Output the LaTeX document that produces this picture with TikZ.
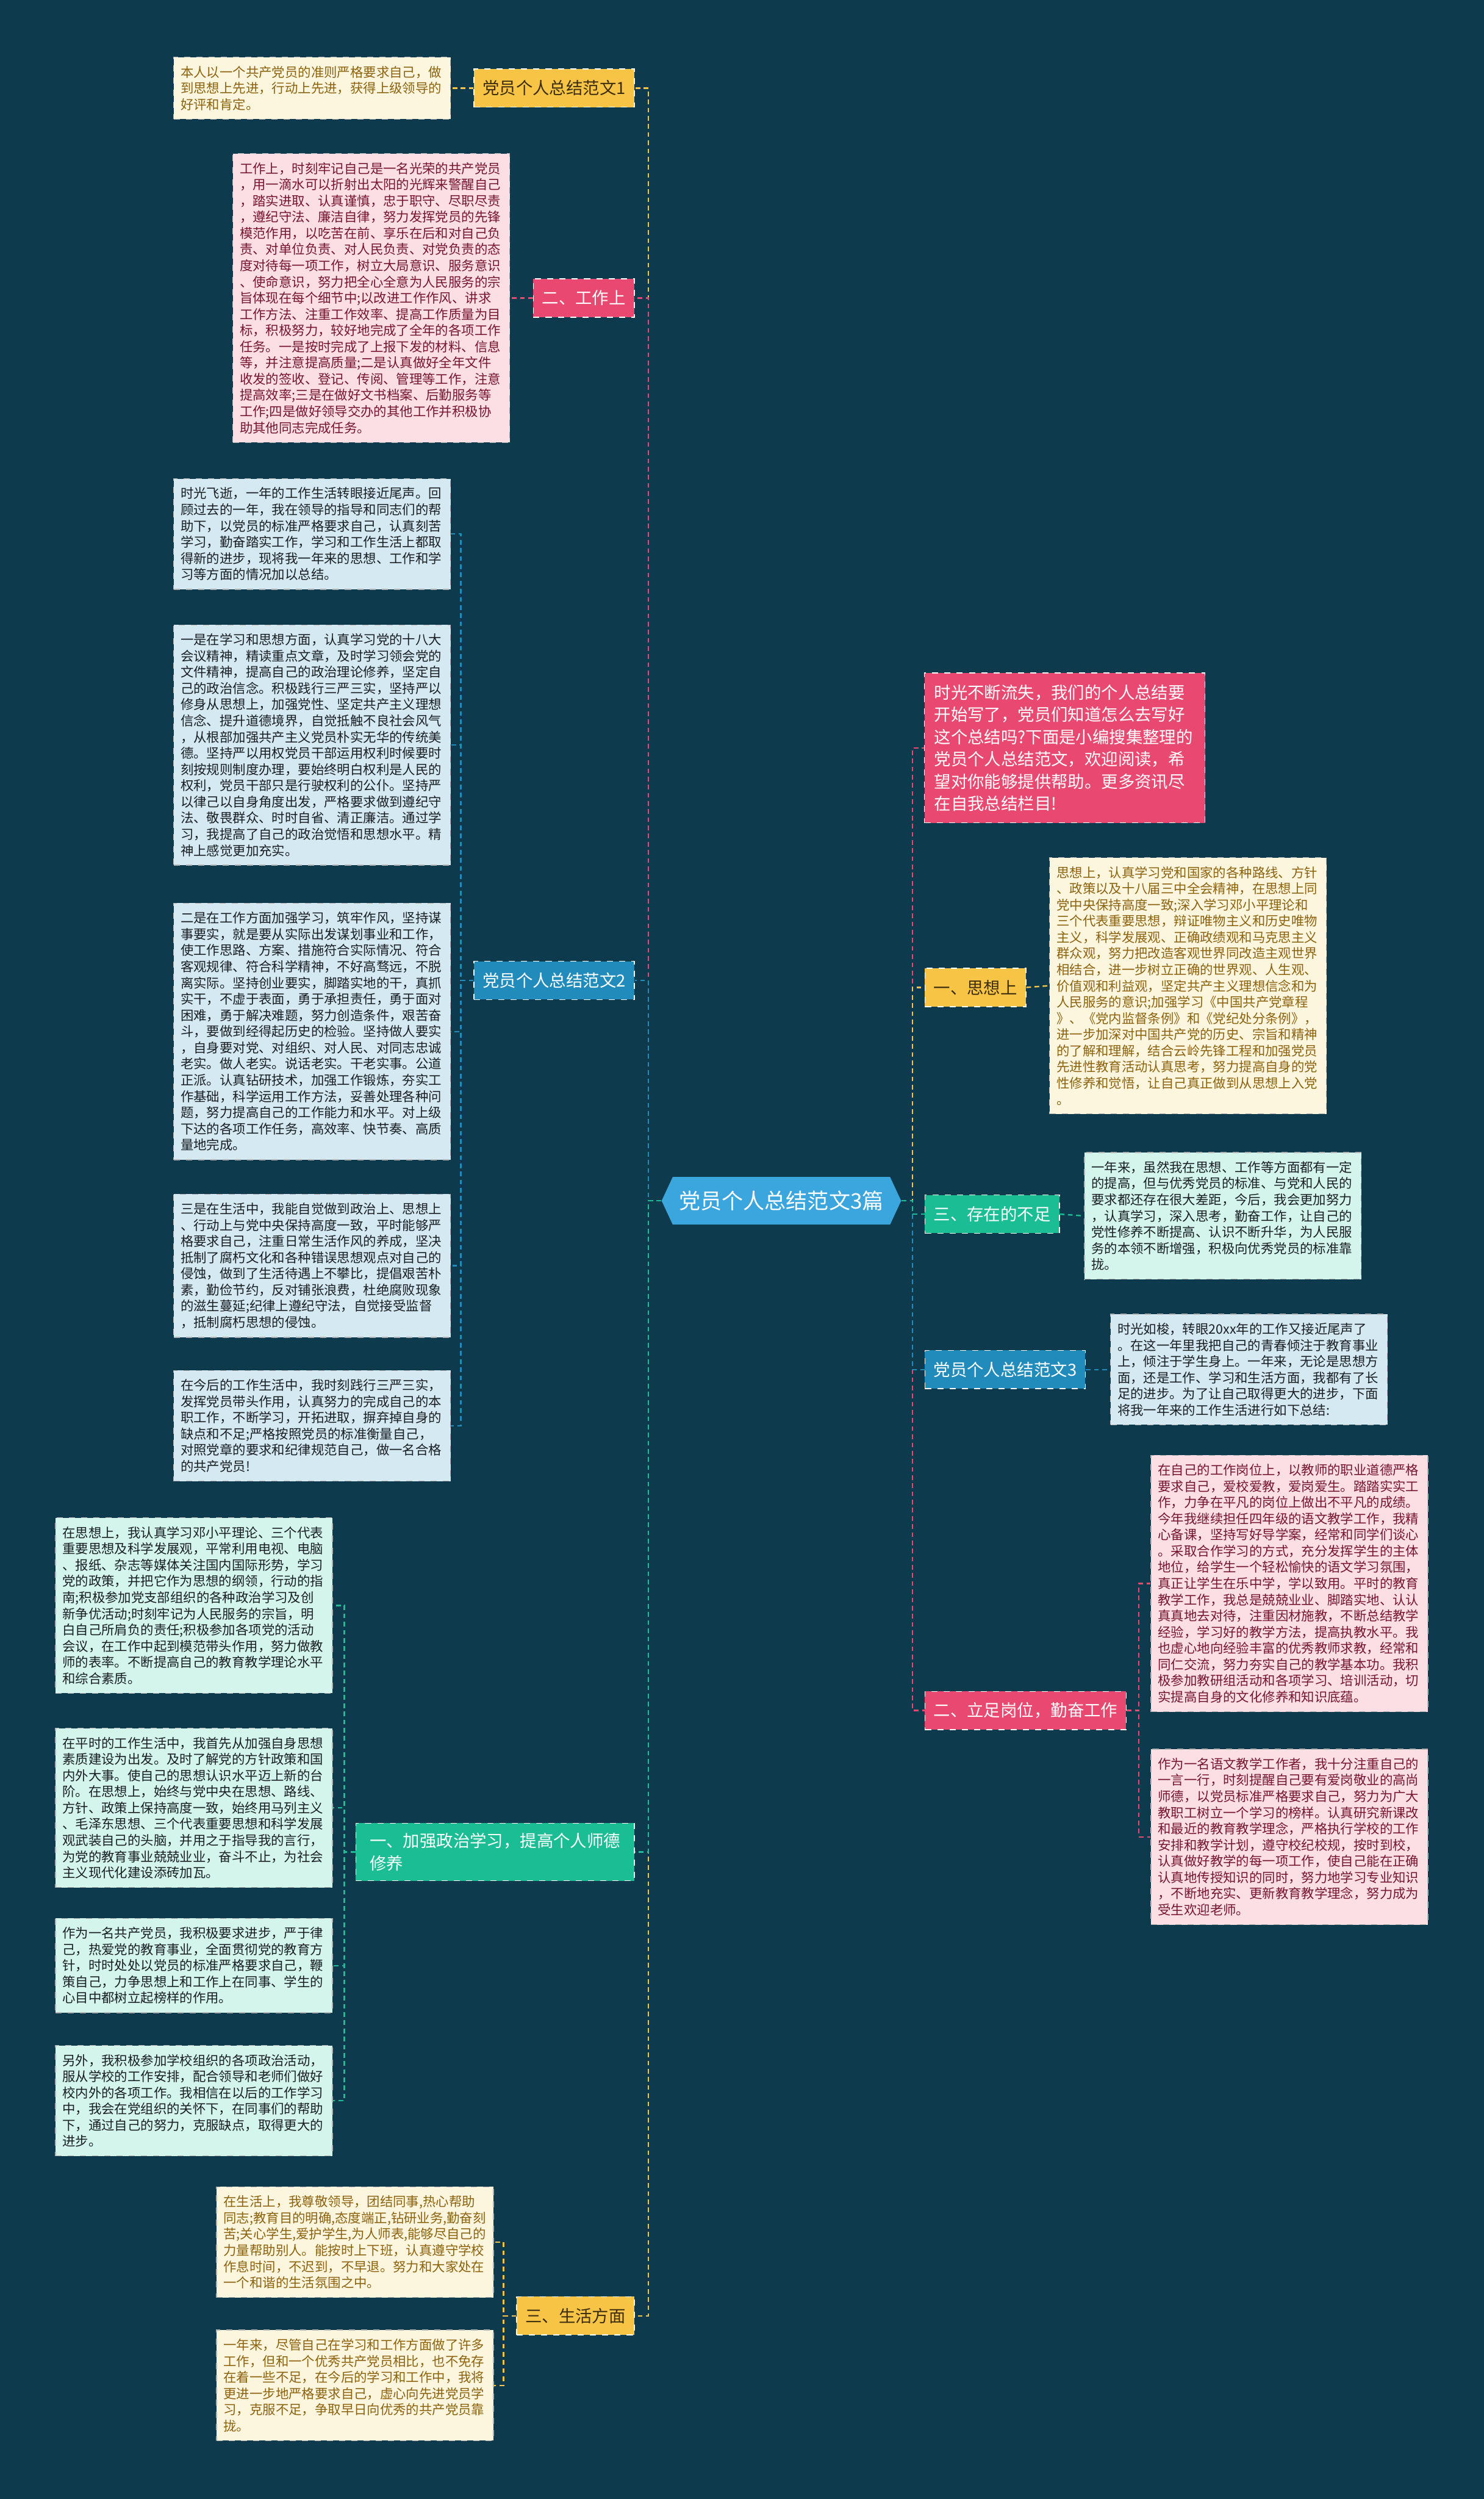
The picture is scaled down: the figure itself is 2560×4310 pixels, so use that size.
\documentclass[tikz,border=0pt]{standalone}
\usepackage{fontspec}
\setmainfont{Noto Sans CJK SC}
\usepackage{xcolor}
\usetikzlibrary{shapes.symbols, positioning}
\definecolor{cBack}{RGB}{14,58,78}
\definecolor{cRoot}{RGB}{59,166,222}
\definecolor{cYellow}{RGB}{247,196,70}
\definecolor{cPink}{RGB}{233,73,112}
\definecolor{cBlue}{RGB}{33,140,188}
\definecolor{cGreen}{RGB}{27,190,148}
\definecolor{cDark}{RGB}{60,45,15}
\definecolor{cCream}{RGB}{253,246,222}
\definecolor{cCreamTxt}{RGB}{140,98,14}
\definecolor{cRose}{RGB}{252,222,229}
\definecolor{cRoseTxt}{RGB}{118,22,46}
\definecolor{cIce}{RGB}{212,233,241}
\definecolor{cMint}{RGB}{211,245,236}
\definecolor{cInk}{RGB}{25,30,35}
\tikzset{
	rootnode/.style ={signal, signal to=east and west, signal pointer angle=130, fill=cRoot, text=white, minimum width=4.13cm, minimum height=0.82cm, inner sep=0pt, font=\fontsize{10.5pt}{12pt}\selectfont},
	topic/.style    ={rectangle, draw=white!35, dashed, thin, minimum height=0.66cm, inner xsep=0.15cm, inner ysep=0.17cm, align=left, font=\fontsize{8.2pt}{10.9pt}\selectfont},
	leaf/.style     ={rectangle, draw=gray!60, dashed, thin, text width=129pt, align=left, inner xsep=0.12cm, inner ysep=0.15cm, font=\fontsize{6.4pt}{7.95pt}\selectfont},
	% leaf colours
	cream/.style    ={leaf, fill=cCream, text=cCreamTxt},
	rose/.style     ={leaf, fill=cRose, text=cRoseTxt},
	ice/.style      ={leaf, fill=cIce, text=cInk},
	mint/.style     ={leaf, fill=cMint, text=cInk},
	link/.style     ={line width=0.7pt, dash pattern=on 2.3pt off 1.7pt},
}
\begin{document}
\begin{tikzpicture}[x=0.01cm, y=-0.01cm]
	\useasboundingbox (0,0) rectangle (2560,4310);
	\fill[cBack] (0,0) rectangle (2560,4310);

	\node[rootnode] (root) at (1348,2071) {党员个人总结范文3篇};

	% left topics
	\node[topic, fill=cYellow, text=cDark, anchor=east] (t1) at (1095,152) {党员个人总结范文1};
	\node[topic, fill=cPink, text=white, anchor=east] (t2) at (1095,514) {二、工作上};
	\node[topic, fill=cBlue, text=white, anchor=east] (t3) at (1095,1691) {党员个人总结范文2};
	\node[topic, fill=cGreen, text=white, anchor=east, inner xsep=0.24cm] (t4) at (1095,3194) {一、加强政治学习，提高个人师德\\修养};
	\node[topic, fill=cYellow, text=cDark, anchor=east] (t5) at (1095,3994) {三、生活方面};

	% right topics
	\node[rose, fill=cPink, text=white, draw=white!40, anchor=west, text width=128pt, inner xsep=0.17cm, inner ysep=0.2cm, font=\fontsize{8.2pt}{10.9pt}\selectfont] (intro) at (1594,1290) {时光不断流失，我们的个人总结要\\
开始写了，党员们知道怎么去写好\\
这个总结吗?下面是小编搜集整理的\\
党员个人总结范文，欢迎阅读，希\\
望对你能够提供帮助。更多资讯尽\\
在自我总结栏目!};
	\node[topic, fill=cYellow, text=cDark, anchor=west] (r1) at (1595,1703) {一、思想上};
	\node[topic, fill=cGreen, text=white, anchor=west] (r2) at (1595,2094) {三、存在的不足};
	\node[topic, fill=cBlue, text=white, anchor=west] (r3) at (1595,2362) {党员个人总结范文3};
	\node[topic, fill=cPink, text=white, anchor=west] (r4) at (1595,2950) {二、立足岗位，勤奋工作};

	% leaves of 范文1 / 工作上 / 范文2
	\node[cream, anchor=east] (a1) at (778,152) {本人以一个共产党员的准则严格要求自己，做\\
到思想上先进，行动上先进，获得上级领导的\\
好评和肯定。};
	\node[rose, anchor=east] (a2) at (880,514) {工作上，时刻牢记自己是一名光荣的共产党员\\
，用一滴水可以折射出太阳的光辉来警醒自己\\
，踏实进取、认真谨慎，忠于职守、尽职尽责\\
，遵纪守法、廉洁自律，努力发挥党员的先锋\\
模范作用，以吃苦在前、享乐在后和对自己负\\
责、对单位负责、对人民负责、对党负责的态\\
度对待每一项工作，树立大局意识、服务意识\\
、使命意识，努力把全心全意为人民服务的宗\\
旨体现在每个细节中;以改进工作作风、讲求\\
工作方法、注重工作效率、提高工作质量为目\\
标，积极努力，较好地完成了全年的各项工作\\
任务。一是按时完成了上报下发的材料、信息\\
等，并注意提高质量;二是认真做好全年文件\\
收发的签收、登记、传阅、管理等工作，注意\\
提高效率;三是在做好文书档案、后勤服务等\\
工作;四是做好领导交办的其他工作并积极协\\
助其他同志完成任务。};
	\node[ice, anchor=east] (a3) at (778,921) {时光飞逝，一年的工作生活转眼接近尾声。回\\
顾过去的一年，我在领导的指导和同志们的帮\\
助下，以党员的标准严格要求自己，认真刻苦\\
学习，勤奋踏实工作，学习和工作生活上都取\\
得新的进步，现将我一年来的思想、工作和学\\
习等方面的情况加以总结。};
	\node[ice, anchor=east] (a4) at (778,1285) {一是在学习和思想方面，认真学习党的十八大\\
会议精神，精读重点文章，及时学习领会党的\\
文件精神，提高自己的政治理论修养，坚定自\\
己的政治信念。积极践行三严三实，坚持严以\\
修身从思想上，加强党性、坚定共产主义理想\\
信念、提升道德境界，自觉抵触不良社会风气\\
，从根部加强共产主义党员朴实无华的传统美\\
德。坚持严以用权党员干部运用权利时候要时\\
刻按规则制度办理，要始终明白权利是人民的\\
权利，党员干部只是行驶权利的公仆。坚持严\\
以律己以自身角度出发，严格要求做到遵纪守\\
法、敬畏群众、时时自省、清正廉洁。通过学\\
习，我提高了自己的政治觉悟和思想水平。精\\
神上感觉更加充实。};
	\node[ice, anchor=east] (a5) at (778,1779) {二是在工作方面加强学习，筑牢作风，坚持谋\\
事要实，就是要从实际出发谋划事业和工作，\\
使工作思路、方案、措施符合实际情况、符合\\
客观规律、符合科学精神，不好高骛远，不脱\\
离实际。坚持创业要实，脚踏实地的干，真抓\\
实干，不虚于表面，勇于承担责任，勇于面对\\
困难，勇于解决难题，努力创造条件，艰苦奋\\
斗，要做到经得起历史的检验。坚持做人要实\\
，自身要对党、对组织、对人民、对同志忠诚\\
老实。做人老实。说话老实。干老实事。公道\\
正派。认真钻研技术，加强工作锻炼，夯实工\\
作基础，科学运用工作方法，妥善处理各种问\\
题，努力提高自己的工作能力和水平。对上级\\
下达的各项工作任务，高效率、快节奏、高质\\
量地完成。};
	\node[ice, anchor=east] (a6) at (778,2183) {三是在生活中，我能自觉做到政治上、思想上\\
、行动上与党中央保持高度一致，平时能够严\\
格要求自己，注重日常生活作风的养成，坚决\\
抵制了腐朽文化和各种错误思想观点对自己的\\
侵蚀，做到了生活待遇上不攀比，提倡艰苦朴\\
素，勤俭节约，反对铺张浪费，杜绝腐败现象\\
的滋生蔓延;纪律上遵纪守法，自觉接受监督\\
，抵制腐朽思想的侵蚀。};
	\node[ice, anchor=east] (a7) at (778,2459) {在今后的工作生活中，我时刻践行三严三实，\\
发挥党员带头作用，认真努力的完成自己的本\\
职工作，不断学习，开拓进取，摒弃掉自身的\\
缺点和不足;严格按照党员的标准衡量自己，\\
对照党章的要求和纪律规范自己，做一名合格\\
的共产党员!};

	% leaves of 一、加强政治学习
	\node[mint, anchor=east] (b1) at (574,2769) {在思想上，我认真学习邓小平理论、三个代表\\
重要思想及科学发展观，平常利用电视、电脑\\
、报纸、杂志等媒体关注国内国际形势，学习\\
党的政策，并把它作为思想的纲领，行动的指\\
南;积极参加党支部组织的各种政治学习及创\\
新争优活动;时刻牢记为人民服务的宗旨，明\\
白自己所肩负的责任;积极参加各项党的活动\\
会议，在工作中起到模范带头作用，努力做教\\
师的表率。不断提高自己的教育教学理论水平\\
和综合素质。};
	\node[mint, anchor=east] (b2) at (574,3118) {在平时的工作生活中，我首先从加强自身思想\\
素质建设为出发。及时了解党的方针政策和国\\
内外大事。使自己的思想认识水平迈上新的台\\
阶。在思想上，始终与党中央在思想、路线、\\
方针、政策上保持高度一致，始终用马列主义\\
、毛泽东思想、三个代表重要思想和科学发展\\
观武装自己的头脑，并用之于指导我的言行，\\
为党的教育事业兢兢业业，奋斗不止，为社会\\
主义现代化建设添砖加瓦。};
	\node[mint, anchor=east] (b3) at (574,3390) {作为一名共产党员，我积极要求进步，严于律\\
己，热爱党的教育事业，全面贯彻党的教育方\\
针，时时处处以党员的标准严格要求自己，鞭\\
策自己，力争思想上和工作上在同事、学生的\\
心目中都树立起榜样的作用。};
	\node[mint, anchor=east] (b4) at (574,3623) {另外，我积极参加学校组织的各项政治活动，\\
服从学校的工作安排，配合领导和老师们做好\\
校内外的各项工作。我相信在以后的工作学习\\
中，我会在党组织的关怀下，在同事们的帮助\\
下，通过自己的努力，克服缺点，取得更大的\\
进步。};

	% leaves of 三、生活方面
	\node[cream, anchor=east] (c1) at (852,3867) {在生活上，我尊敬领导，团结同事,热心帮助\\
同志;教育目的明确,态度端正,钻研业务,勤奋刻\\
苦;关心学生,爱护学生,为人师表,能够尽自己的\\
力量帮助别人。能按时上下班，认真遵守学校\\
作息时间，不迟到，不早退。努力和大家处在\\
一个和谐的生活氛围之中。};
	\node[cream, anchor=east] (c2) at (852,4114) {一年来，尽管自己在学习和工作方面做了许多\\
工作，但和一个优秀共产党员相比，也不免存\\
在着一些不足，在今后的学习和工作中，我将\\
更进一步地严格要求自己，虚心向先进党员学\\
习，克服不足，争取早日向优秀的共产党员靠\\
拢。};

	% right leaves
	\node[cream, anchor=west] (d1) at (1810,1700) {思想上，认真学习党和国家的各种路线、方针\\
、政策以及十八届三中全会精神，在思想上同\\
党中央保持高度一致;深入学习邓小平理论和\\
三个代表重要思想，辩证唯物主义和历史唯物\\
主义，科学发展观、正确政绩观和马克思主义\\
群众观，努力把改造客观世界同改造主观世界\\
相结合，进一步树立正确的世界观、人生观、\\
价值观和利益观，坚定共产主义理想信念和为\\
人民服务的意识;加强学习《中国共产党章程\\
》、《党内监督条例》和《党纪处分条例》，\\
进一步加深对中国共产党的历史、宗旨和精神\\
的了解和理解，结合云岭先锋工程和加强党员\\
先进性教育活动认真思考，努力提高自身的党\\
性修养和觉悟，让自己真正做到从思想上入党\\
。};
	\node[mint, anchor=west] (d2) at (1870,2097) {一年来，虽然我在思想、工作等方面都有一定\\
的提高，但与优秀党员的标准、与党和人民的\\
要求都还存在很大差距，今后，我会更加努力\\
，认真学习，深入思考，勤奋工作，让自己的\\
党性修养不断提高、认识不断升华，为人民服\\
务的本领不断增强，积极向优秀党员的标准靠\\
拢。};
	\node[ice, anchor=west] (d3) at (1915,2362) {时光如梭，转眼20xx年的工作又接近尾声了\\
。在这一年里我把自己的青春倾注于教育事业\\
上，倾注于学生身上。一年来，无论是思想方\\
面，还是工作、学习和生活方面，我都有了长\\
足的进步。为了让自己取得更大的进步，下面\\
将我一年来的工作生活进行如下总结:};
	\node[rose, anchor=west] (d4) at (1985,2731) {在自己的工作岗位上，以教师的职业道德严格\\
要求自己，爱校爱教，爱岗爱生。踏踏实实工\\
作，力争在平凡的岗位上做出不平凡的成绩。\\
今年我继续担任四年级的语文教学工作，我精\\
心备课，坚持写好导学案，经常和同学们谈心\\
。采取合作学习的方式，充分发挥学生的主体\\
地位，给学生一个轻松愉快的语文学习氛围，\\
真正让学生在乐中学，学以致用。平时的教育\\
教学工作，我总是兢兢业业、脚踏实地、认认\\
真真地去对待，注重因材施教，不断总结教学\\
经验，学习好的教学方法，提高执教水平。我\\
也虚心地向经验丰富的优秀教师求教，经常和\\
同仁交流，努力夯实自己的教学基本功。我积\\
极参加教研组活动和各项学习、培训活动，切\\
实提高自身的文化修养和知识底蕴。};
	\node[rose, anchor=west] (d5) at (1985,3168) {作为一名语文教学工作者，我十分注重自己的\\
一言一行，时刻提醒自己要有爱岗敬业的高尚\\
师德，以党员标准严格要求自己，努力为广大\\
教职工树立一个学习的榜样。认真研究新课改\\
和最近的教育教学理念，严格执行学校的工作\\
安排和教学计划，遵守校纪校规，按时到校，\\
认真做好教学的每一项工作，使自己能在正确\\
认真地传授知识的同时，努力地学习专业知识\\
，不断地充实、更新教育教学理念，努力成为\\
受生欢迎老师。};

	% root to topics
	\draw[link, cYellow] (root.west) -- ++(-22,0) |- (t1.east);
	\draw[link, cPink] (root.west) -- ++(-22,0) |- (t2.east);
	\draw[link, cBlue] (root.west) -- ++(-22,0) |- (t3.east);
	\draw[link, cYellow] (root.west) -- ++(-22,0) |- (t5.east);
	\draw[link, cGreen] (root.west) -- ++(-22,0) |- (t4.east);
	\draw[link, cPink] (root.east) -- ++(19,0) |- (intro.west);
	\draw[link, cYellow] (root.east) -- ++(19,0) |- (r1.west);
	\draw[link, cPink] (root.east) -- ++(19,0) |- (r4.west);
	\draw[link, cBlue] (root.east) -- ++(19,0) |- (r3.west);
	\draw[link, cGreen] (root.east) -- ++(19,0) |- (r2.west);

	% topics to leaves
	\draw[link, cYellow] (t1.west) -- (a1.east);
	\draw[link, cPink] (t2.west) -- (a2.east);
	\foreach \n in {a3,a4,a5,a6,a7}
		\draw[link, cBlue] (t3.west) -- ++(-22,0) |- (\n.east);
	\foreach \n in {b1,b2,b3,b4}
		\draw[link, cGreen] (t4.west) -- ++(-19,0) |- (\n.east);
	\foreach \n in {c1,c2}
		\draw[link, cYellow] (t5.west) -- ++(-22,0) |- (\n.east);
	\draw[link, cYellow] (r1.east) -- (d1.west);
	\draw[link, cGreen] (r2.east) -- (d2.west);
	\draw[link, cBlue] (r3.east) -- (d3.west);
	\foreach \n in {d4,d5}
		\draw[link, cPink] (r4.east) -- ++(21,0) |- (\n.west);
\end{tikzpicture}
\end{document}
